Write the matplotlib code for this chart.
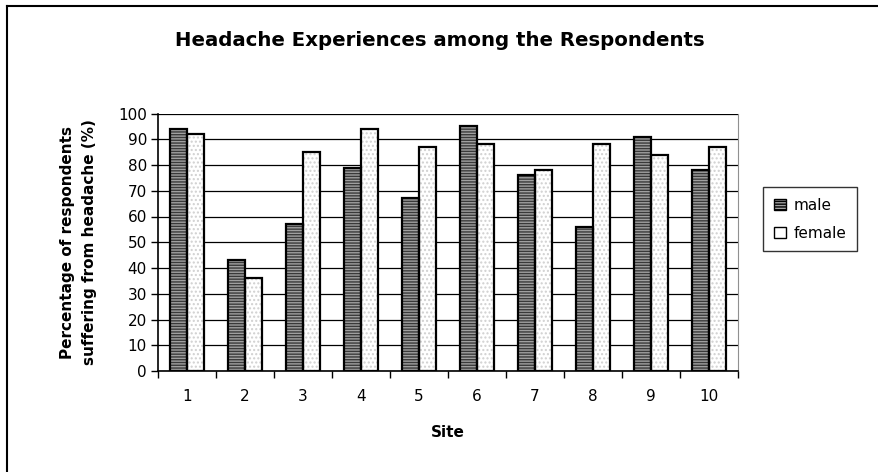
import numpy as np
import matplotlib
matplotlib.use("Agg")
import matplotlib.pyplot as plt
from matplotlib.lines import Line2D
from matplotlib.patches import Patch

plt.rcParams["font.family"] = ["DejaVu Sans"]
plt.rcParams["hatch.linewidth"] = 1.0

sites = ["1", "2", "3", "4", "5", "6", "7", "8", "9", "10"]
male = [94, 43, 57, 79, 67, 95, 76, 56, 91, 78]
female = [92, 36, 85, 94, 87, 88, 78, 88, 84, 87]

MALE_FACE = "#a0a0a0"
MALE_HATCH = "#3a3a3a"
FEMALE_HATCH = "#d0d0d0"

fig = plt.figure(figsize=(8.79, 4.72), dpi=100)
ax = fig.add_axes([158 / 879, 1 - 371 / 472, (738 - 158) / 879, (371 - 113.5) / 472])

x = np.arange(len(sites))
w = 0.30
# fill + hatch layer, then black outline layer
ax.bar(x - w / 2, male, w, color=MALE_FACE, edgecolor=MALE_HATCH, lw=0,
       hatch="------", zorder=3)
ax.bar(x - w / 2, male, w, color="none", edgecolor="black", lw=1.6, zorder=4)
ax.bar(x + w / 2, female, w, color="white", edgecolor=FEMALE_HATCH, lw=0,
       hatch="....", zorder=3)
ax.bar(x + w / 2, female, w, color="none", edgecolor="black", lw=1.6, zorder=4)

ax.set_xlim(-0.5, len(sites) - 0.5)
ax.set_ylim(0, 100)
ax.set_yticks(range(0, 101, 10))
ax.set_xticks(x)
ax.set_xticklabels(sites)
ax.set_xticks(np.arange(-0.5, len(sites), 1), minor=True)
ax.tick_params(axis="x", which="major", length=0, pad=13, labelsize=11)
ax.tick_params(axis="x", which="minor", length=5, width=1, direction="out")
ax.tick_params(axis="y", length=5, width=1, direction="out", labelsize=11, pad=3)
ax.yaxis.grid(True, color="black", lw=0.9, zorder=0)
ax.set_axisbelow(True)
ax.spines["top"].set_visible(False)
ax.spines["right"].set_color("#909090")
ax.spines["left"].set_linewidth(1.2)
ax.spines["bottom"].set_linewidth(1.2)

ax.set_xlabel("Site", fontweight="bold", fontsize=11, labelpad=15)
ax.set_ylabel("Percentage of respondents\nsuffering from headache (%)",
              fontweight="bold", fontsize=11, labelpad=15, linespacing=1.6)

fig.text(440 / 879, 1 - 40 / 472, "Headache Experiences among the Respondents",
         ha="center", va="center", fontsize=14.2, fontweight="bold")

handles = [Patch(facecolor=MALE_FACE, edgecolor="black", hatch="------", label="male"),
           Patch(facecolor="white", edgecolor="black", label="female")]
leg = fig.legend(handles=handles, loc="upper left",
                 bbox_to_anchor=(763 / 879, 1 - 187 / 472),
                 frameon=True, fancybox=False, edgecolor="black", fontsize=11,
                 handlelength=0.8, handleheight=0.8, handletextpad=0.5,
                 borderpad=0.7, labelspacing=0.85, borderaxespad=0)
leg.get_frame().set_linewidth(1)

fig.add_artist(Line2D([7 / 879, 7 / 879], [0, 1 - 6 / 472], color="black", lw=1.5))
fig.add_artist(Line2D([7 / 879, 1], [1 - 6 / 472, 1 - 6 / 472], color="black", lw=1.5))

fig.savefig("out.png", dpi=100)
